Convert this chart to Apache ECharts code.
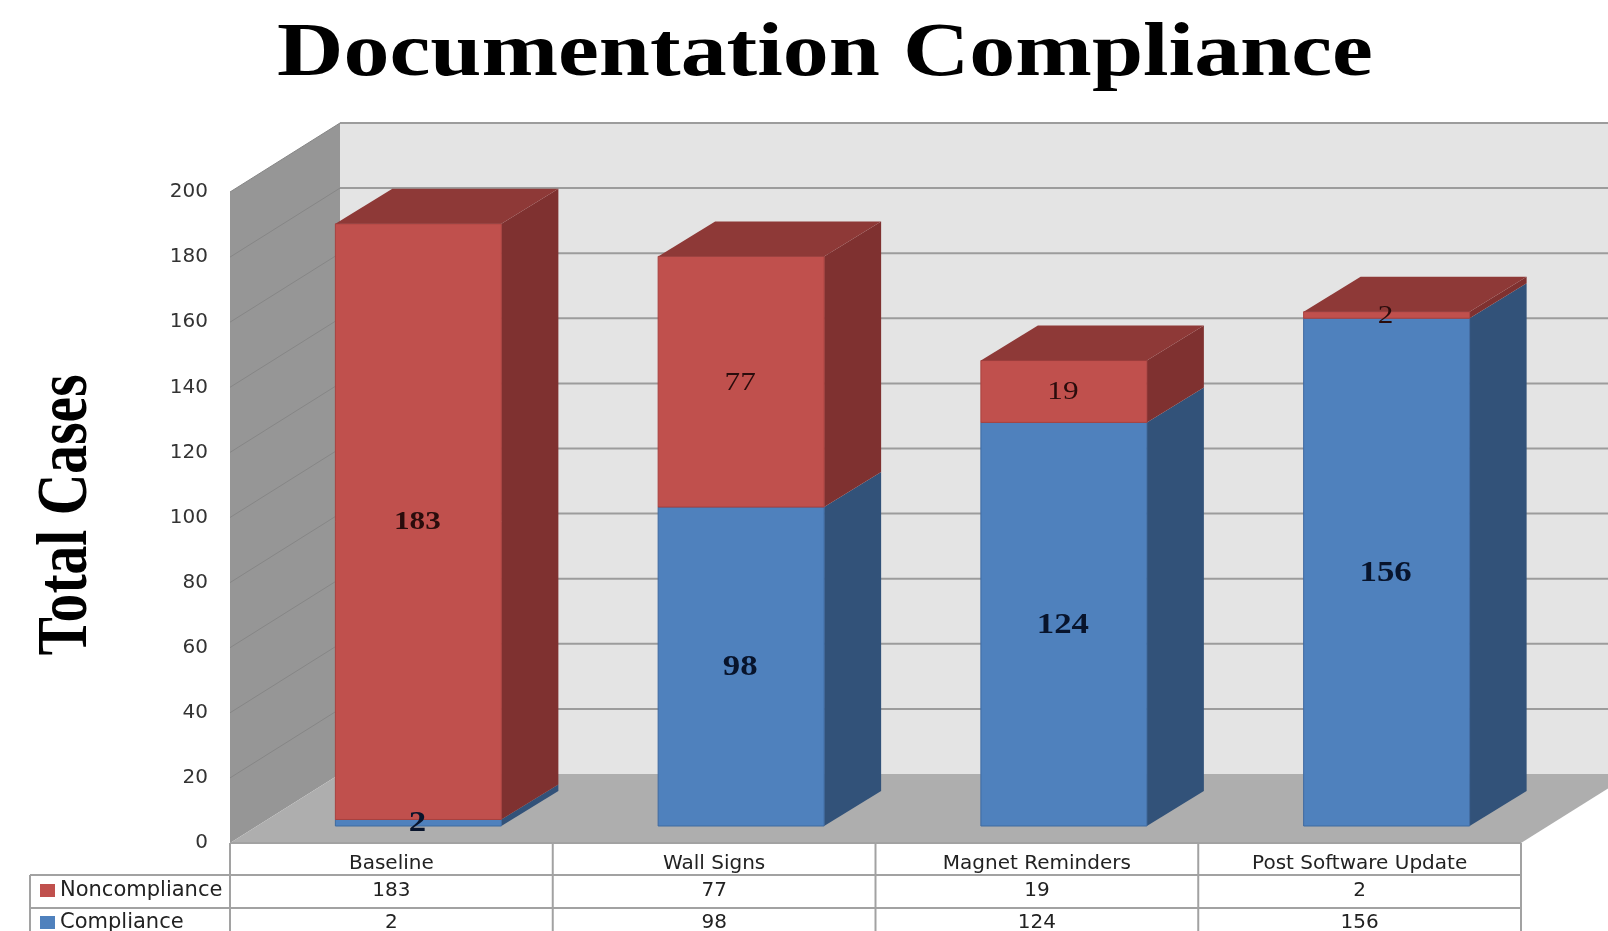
<!DOCTYPE html>
<html>
<head>
<meta charset="utf-8">
<title>Documentation Compliance</title>
<script src="https://cdn.jsdelivr.net/npm/echarts@6/dist/echarts.min.js"></script>
<style>
  html, body { margin: 0; padding: 0; background: #fff; }
  #main { width: 1608px; height: 931px; overflow: hidden; }
</style>
</head>
<body>
<div id="main"></div>
<script>
// values
var categories = ["Baseline", "Wall Signs", "Magnet Reminders", "Post Software Update"];
var noncompliance = [183, 77, 19, 2];
var compliance = [2, 98, 124, 156];
var yTicks = [0, 20, 40, 60, 80, 100, 120, 140, 160, 180, 200];

// 3d look: offsets in px from the front plane of the box
var wallDx = 110, wallDy = -69;
var barDx = 27, barDy = -17;
var depthDx = 57, depthDy = -35;
var barWidth = 166;

var serif = '"Liberation Serif", serif';
var sans = '"DejaVu Sans", sans-serif';

function poly(points, fill, stroke) {
  return {
    type: "polygon",
    shape: { points: points },
    style: { fill: fill, stroke: stroke || null, lineWidth: stroke ? 1 : 0 }
  };
}

function line(x1, y1, x2, y2, color, width) {
  return {
    type: "line",
    shape: { x1: x1, y1: y1, x2: x2, y2: y2 },
    style: { stroke: color, lineWidth: width, fill: null }
  };
}

function label(text, x, y, font, color, scaleX) {
  return {
    type: "text",
    x: x,
    y: y,
    scaleX: scaleX || 1,
    z2: 100,
    style: { text: text, font: font, fill: color, align: "center", verticalAlign: "middle" }
  };
}

/* walls and floor of the box */
function renderWalls(params, api) {
  var colW = api.size([1, 0])[0];
  var x0 = api.coord([0, 0])[0] - colW / 2;
  var x1 = api.coord([categories.length - 1, 0])[0] + colW / 2;
  var y0 = api.coord([0, 0])[1];
  var yTop = api.coord([0, 200])[1];
  var children = [
    poly([[x0 + wallDx, yTop + wallDy], [x1 + wallDx, yTop + wallDy], [x1 + wallDx, y0 + wallDy], [x0 + wallDx, y0 + wallDy]], "#e4e4e4"),
    poly([[x0, yTop], [x0 + wallDx, yTop + wallDy], [x0 + wallDx, y0 + wallDy], [x0, y0]], "#969696"),
    poly([[x0, y0], [x1, y0], [x1 + wallDx, y0 + wallDy], [x0 + wallDx, y0 + wallDy]], "#aeaeae")
  ];
  yTicks.forEach(function (t) {
    var y = api.coord([0, t])[1];
    if (t > 0) {
      children.push(line(x0 + wallDx, y + wallDy, x1 + wallDx, y + wallDy, "#9c9c9c", 2));
      children.push(line(x0, y, x0 + wallDx, y + wallDy, "#868686", 1));
    }
  });
  return { type: "group", children: children };
}

/* one stacked 3d segment */
function makeBarRenderer(front, side, top, edge, isTopSeries) {
  return function (params, api) {
    var i = api.value(0);
    var base = api.coord([i, api.value(1)]);
    var head = api.coord([i, api.value(2)]);
    var xl = base[0] - barWidth / 2 + barDx;
    var xr = xl + barWidth;
    var yb = base[1] + barDy;
    var yt = head[1] + barDy;
    var children = [
      poly([[xr, yb], [xr + depthDx, yb + depthDy], [xr + depthDx, yt + depthDy], [xr, yt]], side),
      poly([[xl, yb], [xr, yb], [xr, yt], [xl, yt]], front, edge)
    ];
    if (isTopSeries) {
      children.push(poly([[xl, yt], [xr, yt], [xr + depthDx, yt + depthDy], [xl + depthDx, yt + depthDy]], top));
    }
    var v = api.value(2) - api.value(1);
    var bold = !isTopSeries || i === 0;
    var size = isTopSeries ? 26 : 29;
    children.push(label(String(v), (xl + xr) / 2 - 1, (yb + yt) / 2 + 1,
      (bold ? "bold " : "") + size + "px " + serif, isTopSeries ? "#2a0c0c" : "#08142c", 1.2));
    return { type: "group", children: children };
  };
}

/* data table under the plot, the legend sits in its first column */
function renderTable(params, api) {
  var i = api.value(0);
  var colW = api.size([1, 0])[0];
  var c = api.coord([i, 0]);
  var left = c[0] - colW / 2;
  var right = c[0] + colW / 2;
  var y0 = c[1];
  var c1 = "#a2a2a2";
  var children = [
    line(left, y0, right, y0, c1, 2),
    line(left, y0, left, y0 + 90, c1, 2),
    line(left, y0 + 32, right, y0 + 32, c1, 2),
    line(left, y0 + 65, right, y0 + 65, c1, 2),
    label(String(api.value(1)), c[0], y0 + 48, "20px " + sans, "#222"),
    label(String(api.value(2)), c[0], y0 + 80, "20px " + sans, "#222")
  ];
  if (i === 0) {
    children.push(line(30, y0 + 32, left, y0 + 32, c1, 2));
    children.push(line(30, y0 + 65, left, y0 + 65, c1, 2));
    children.push(line(30, y0 + 32, 30, y0 + 90, c1, 2));
  }
  if (i === categories.length - 1) {
    children.push(line(right, y0, right, y0 + 90, c1, 2));
  }
  return { type: "group", children: children };
}

var chart = echarts.init(document.getElementById("main"), null, { renderer: "canvas" });
chart.setOption({
  animation: false,
  backgroundColor: "#fff",
  grid: { left: 230, width: 1291, top: 192, height: 651 },
  legend: {
    orient: "vertical",
    left: 40,
    top: 880,
    height: 100,
    padding: 0,
    itemGap: 11,
    itemWidth: 15,
    itemHeight: 13,
    icon: "rect",
    selectedMode: false,
    data: ["Noncompliance", "Compliance"],
    textStyle: { fontFamily: sans, fontSize: 21, color: "#222" }
  },
  xAxis: {
    type: "category",
    data: categories,
    axisLine: { show: false },
    axisTick: { show: false },
    axisLabel: { margin: 11, fontFamily: sans, fontSize: 20, color: "#222", interval: 0 }
  },
  yAxis: {
    type: "value",
    min: 0,
    max: 200,
    interval: 20,
    axisLine: { show: false },
    axisTick: { show: false },
    splitLine: { show: false },
    axisLabel: { margin: 22, fontFamily: sans, fontSize: 20, color: "#333" }
  },
  graphic: [
    {
      type: "text", x: 825, y: 55, scaleX: 1.21,
      style: { text: "Documentation Compliance", font: "bold 76px " + serif, fill: "#000", align: "center", verticalAlign: "middle" }
    },
    {
      type: "text", x: 67, y: 515, rotation: Math.PI / 2, scaleX: 0.8,
      style: { text: "Total Cases", font: "bold 72px " + serif, fill: "#000", align: "center", verticalAlign: "middle" }
    }
  ],
  series: [
    {
      name: "walls",
      type: "custom",
      silent: true,
      renderItem: renderWalls,
      data: [[0]],
      encode: { x: 0 }
    },
    {
      name: "Compliance",
      type: "custom",
      itemStyle: { color: "#4f81bd" },
      renderItem: makeBarRenderer("#4f81bd", "#325279", "#3a5f8c", "#3f6aa0", false),
      encode: { x: 0, y: [1, 2] },
      data: compliance.map(function (v, i) { return [i, 0, v]; })
    },
    {
      name: "Noncompliance",
      type: "custom",
      itemStyle: { color: "#c0504d" },
      renderItem: makeBarRenderer("#c0504d", "#7f3130", "#8e3937", "#a8413f", true),
      encode: { x: 0, y: [1, 2] },
      data: noncompliance.map(function (v, i) { return [i, compliance[i], compliance[i] + v]; })
    },
    {
      name: "table",
      type: "custom",
      silent: true,
      renderItem: renderTable,
      encode: { x: 0 },
      data: categories.map(function (c, i) { return [i, noncompliance[i], compliance[i]]; })
    }
  ]
});
</script>
</body>
</html>
